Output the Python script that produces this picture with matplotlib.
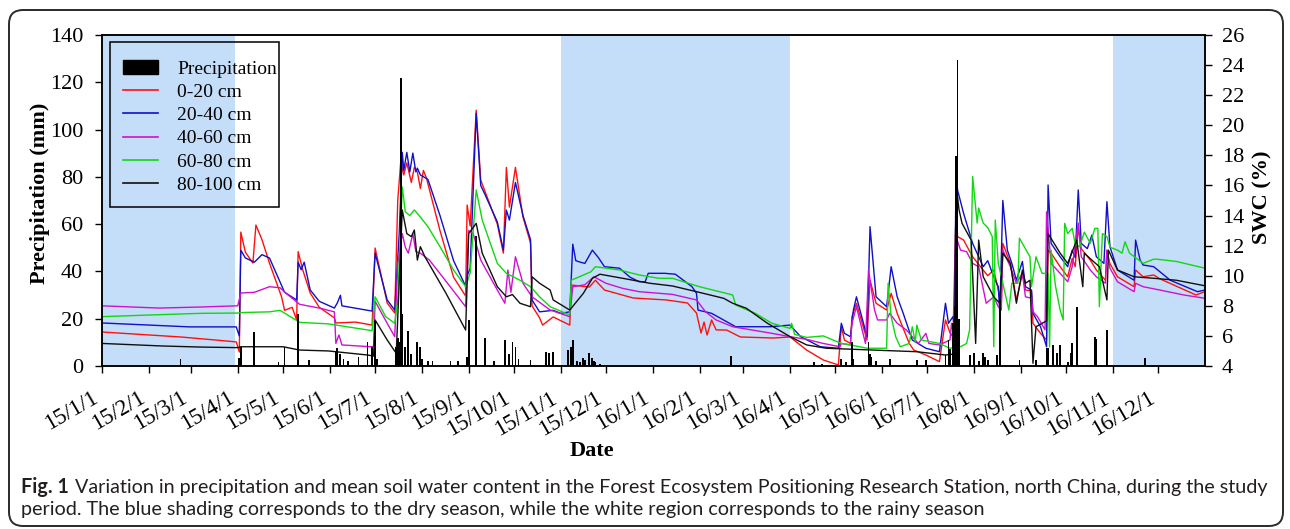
import numpy as np
import pandas as pd
import matplotlib
matplotlib.use("Agg")
import matplotlib.pyplot as plt
from matplotlib.patches import FancyBboxPatch, Patch, Rectangle
from matplotlib.lines import Line2D
from matplotlib.transforms import IdentityTransform, ScaledTranslation

# all x values are days counted from 2015-01-01
start = pd.Timestamp("2015-01-01")
n_days = 731

# dry season shading
dry_start = [0, 304, 670]
dry_end = [88, 456, 731]

# daily precipitation (mm), only rainy days listed
rain_day = [52, 58, 91, 92, 101, 117, 121, 130, 137, 155, 156, 158, 160, 163, 170,
            176, 179, 181, 182, 195, 196, 197, 198, 199, 201, 203, 205, 209, 211, 212,
            216, 219, 231, 236, 242, 243, 248, 254, 260, 267, 270, 272, 274, 276, 284,
            294, 296, 299, 309, 311, 312, 315, 317, 319, 320, 323, 325, 326, 327, 330,
            417, 472, 477, 490, 493, 497, 498, 508, 509, 510, 513, 522, 540, 546, 559,
            561, 562, 564, 565, 566, 567, 568, 575, 578, 581, 584, 585, 587, 593, 595,
            608, 619, 626, 627, 630, 633, 635, 640, 642, 643, 646, 658, 659, 666, 691]
rain_mm = [3.0, 0.6, 3.5, 8, 14.5, 1.5, 8, 22, 2.5, 6.5, 7.5, 5, 3, 2, 4,
           10, 8, 19, 3, 8, 12, 10, 121.7, 22, 8, 15, 5, 10, 8, 3,
           2, 2, 2, 2, 4, 19.5, 55, 11.7, 2, 11, 5, 10, 8, 3, 2.5,
           6, 5.5, 6, 6.8, 8.2, 11, 2, 1.5, 3.5, 2.5, 5.4, 3.5, 2, 1.5, 1,
           4.2, 1.5, 1, 3, 1.5, 10, 3, 10, 5, 4, 2, 3, 2.5, 2.5, 4.6,
           11, 7, 18, 25, 89, 129.4, 20, 4.6, 5.5, 2, 5.5, 4, 2.5, 4.6, 28,
           2.5, 2.5, 7.5, 7.5, 8.9, 5.4, 8.9, 1.5, 5.4, 9.6, 25, 12.4, 11.5, 15.2, 3.2]

# soil water content (%) by depth
swc_0_20_day = [0, 52, 75, 89, 91, 92, 95, 100, 102, 106, 111, 119, 121, 126, 129, 130,
                133, 138, 144, 154, 155, 168, 179, 181, 189, 194, 196, 198, 200, 202, 205,
                207, 209, 211, 213, 215, 224, 233, 241, 242, 244, 248, 251, 254, 262, 266,
                268, 270, 274, 279, 284, 285, 290, 292, 299, 310, 311, 323, 327, 333, 352,
                374, 388, 394, 397, 399, 401, 404, 407, 414, 423, 445, 456, 467, 478, 488,
                490, 492, 496, 497, 500, 507, 509, 513, 520, 523, 527, 535, 538, 546, 555,
                559, 562, 564, 566, 567, 571, 577, 584, 587, 591, 594, 596, 597, 602, 606,
                610, 612, 616, 617, 622, 626, 627, 629, 635, 640, 643, 645, 647, 649, 655,
                659, 665, 666, 668, 673, 684, 685, 690, 697, 701, 725, 731]
swc_0_20 = [6.26, 5.93, 5.73, 5.6, 4.93, 12.9, 11.57, 10.84, 13.37, 12.4, 10.84, 8.6, 7.7, 7.9, 7.06, 11.6,
            10.4, 8.85, 7.9, 7.2, 6.86, 6.92, 6.72, 11.84, 8.19, 7.52, 15.0, 17.6, 16.7, 17.5, 16.2,
            17.2, 16.9, 15.8, 17.0, 16.5, 13.0, 9.9, 8.65, 14.7, 13.3, 21.0, 16.36, 15.56, 13.43, 11.5,
            17.2, 14.56, 17.2, 13.9, 12.17, 8.0, 7.2, 6.72, 7.26, 6.72, 9.38, 9.25, 9.7, 9.05, 8.52,
            8.39, 8.19, 7.52, 6.19, 6.92, 6.06, 7.06, 6.4, 6.39, 5.93, 5.86, 5.93, 5.06, 4.4, 4.07,
            6.61, 5.73, 5.5, 7.28, 8.17, 5.73, 9.7, 8.17, 7.72, 8.83, 7.5, 5.5, 5.06, 4.73, 4.29,
            7.06, 6.2, 5.95, 14.37, 12.6, 12.37, 11.26, 10.38, 10.0, 10.38, 9.05, 8.17, 12.15, 10.82, 8.39,
            10.16, 9.05, 9.0, 6.84, 6.17, 5.73, 11.7, 11.5, 10.6, 9.93, 11.15, 10.6, 13.26, 11.8, 11.04,
            10.38, 9.7, 11.7, 10.8, 9.93, 9.27, 10.38, 9.93, 10.05, 9.8, 8.72, 8.94]

swc_20_40_day = [0, 32, 58, 89, 91, 92, 95, 101, 106, 111, 121, 129, 130, 132, 134, 138,
                 144, 154, 156, 158, 159, 179, 181, 189, 194, 196, 197, 199, 200, 202, 204,
                 206, 208, 209, 211, 216, 224, 233, 241, 242, 244, 248, 251, 254, 262, 266,
                 268, 270, 274, 279, 284, 285, 290, 299, 304, 310, 312, 314, 317, 320, 325,
                 329, 333, 338, 343, 350, 356, 360, 362, 373, 380, 391, 394, 395, 404, 420,
                 443, 456, 463, 476, 488, 490, 492, 496, 498, 500, 507, 509, 513, 520, 523,
                 527, 531, 537, 546, 555, 559, 561, 564, 565, 566, 567, 571, 577, 584, 587,
                 591, 594, 595, 597, 600, 603, 606, 610, 612, 616, 617, 622, 626, 627, 629,
                 635, 640, 643, 645, 647, 649, 653, 656, 659, 664, 666, 668, 673, 684, 685,
                 688, 690, 697, 708, 726, 731]
swc_20_40 = [6.86, 6.72, 6.6, 6.6, 6.0, 11.7, 11.18, 10.9, 11.4, 11.18, 8.9, 8.39, 10.9, 10.4, 10.9, 9.05,
             8.3, 7.85, 8.2, 8.7, 8.0, 7.65, 11.5, 8.39, 7.72, 11.17, 12.84, 18.2, 17.0, 18.2, 16.9,
             18.15, 16.9, 17.15, 16.7, 16.4, 14.0, 11.0, 9.3, 10.0, 10.5, 20.8, 16.0, 15.36, 13.57, 11.7,
             14.36, 13.7, 16.2, 14.0, 12.4, 8.39, 7.6, 7.7, 7.5, 7.6, 12.1, 11.0, 10.9, 10.82, 11.7,
             11.2, 10.6, 10.55, 10.5, 9.9, 9.6, 9.6, 10.16, 10.16, 10.1, 9.27, 8.83, 7.72, 7.5, 6.61,
             6.61, 6.72, 5.95, 5.28, 5.18, 6.84, 6.17, 5.95, 7.72, 8.6, 5.95, 13.26, 8.6, 7.94, 10.6,
             8.6, 7.5, 5.73, 5.18, 4.95, 8.17, 6.84, 7.28, 6.5, 17.0, 15.7, 14.15, 12.15, 10.6, 11.0,
             9.93, 9.27, 7.5, 15.0, 11.7, 10.82, 9.7, 10.95, 9.27, 9.05, 7.5, 6.61, 5.28, 16.03, 12.15,
             11.26, 10.6, 11.7, 11.2, 15.7, 12.15, 11.8, 12.7, 11.26, 10.82, 14.92, 11.93, 10.38, 9.7, 12.37,
             11.04, 10.71, 10.6, 9.7, 8.94, 9.05]

swc_40_60_day = [0, 38, 65, 90, 92, 101, 111, 118, 122, 131, 145, 154, 155, 157, 159, 178,
                 180, 181, 189, 194, 196, 199, 201, 203, 206, 208, 211, 217, 229, 241, 243,
                 246, 251, 262, 267, 269, 271, 274, 279, 285, 297, 310, 312, 320, 326, 334,
                 345, 356, 378, 394, 400, 407, 418, 444, 456, 467, 478, 489, 490, 496, 497,
                 500, 506, 508, 512, 514, 520, 522, 527, 533, 537, 541, 546, 548, 555, 562,
                 563, 565, 566, 569, 573, 577, 581, 586, 591, 594, 596, 597, 602, 606, 610,
                 612, 616, 617, 620, 625, 626, 629, 635, 640, 643, 647, 649, 655, 659, 665,
                 666, 668, 673, 684, 685, 690, 701, 717, 731]
swc_40_60 = [8.0, 7.85, 7.92, 8.0, 8.85, 8.9, 9.27, 9.2, 8.83, 8.1, 7.83, 7.6, 5.5, 6.06, 5.4, 5.28,
             5.3, 8.3, 6.84, 5.95, 10.8, 12.8, 11.9, 11.5, 12.8, 11.6, 11.5, 11.04, 9.5, 7.94, 13.0,
             12.8, 11.04, 9.05, 8.17, 10.38, 8.9, 11.26, 9.5, 8.6, 7.72, 7.28, 9.27, 9.4, 9.93, 9.5,
             9.16, 8.94, 8.76, 8.39, 7.6, 7.06, 6.61, 6.17, 5.95, 5.77, 5.5, 5.28, 5.5, 5.4, 6.84,
             7.94, 5.5, 10.38, 7.72, 7.06, 7.06, 7.5, 6.84, 6.4, 5.95, 5.5, 6.17, 5.5, 5.4, 5.73,
             6.84, 5.6, 12.6, 11.7, 11.6, 10.82, 10.6, 8.17, 8.6, 7.94, 7.72, 11.7, 10.6, 9.5, 10.16,
             8.6, 8.5, 7.6, 7.28, 6.4, 14.25, 10.82, 10.16, 9.6, 10.6, 13.5, 11.26, 10.38, 9.93, 9.5,
             11.7, 10.5, 9.6, 8.94, 9.5, 9.27, 9.05, 8.72, 8.5]

swc_60_80_day = [0, 32, 65, 90, 92, 111, 118, 131, 150, 179, 181, 188, 194, 196, 199, 201,
                 204, 207, 211, 216, 224, 233, 241, 244, 248, 252, 262, 268, 277, 284, 290,
                 297, 310, 311, 324, 327, 343, 356, 369, 378, 396, 418, 420, 433, 444, 456,
                 457, 459, 467, 478, 490, 496, 507, 520, 521, 523, 526, 529, 535, 537, 539,
                 540, 543, 555, 562, 569, 573, 575, 577, 580, 581, 584, 587, 590, 591, 592,
                 594, 597, 601, 603, 607, 608, 615, 616, 619, 623, 627, 628, 629, 632, 635,
                 637, 638, 640, 643, 645, 648, 651, 655, 658, 660, 661, 663, 666, 668, 673,
                 676, 678, 681, 690, 697, 699, 712, 731]
swc_60_80 = [7.28, 7.39, 7.5, 7.52, 7.55, 7.6, 7.7, 6.9, 6.8, 6.35, 8.6, 7.28, 6.84, 8.4, 15.9, 14.25,
             14.0, 14.37, 13.9, 13.26, 11.93, 10.38, 9.27, 10.2, 15.7, 13.7, 10.82, 10.16, 9.7, 9.27, 8.6,
             7.94, 7.39, 9.7, 10.26, 10.6, 10.38, 10.05, 9.83, 9.83, 9.27, 8.72, 8.05, 7.5, 6.84, 6.5,
             6.84, 6.1, 5.9, 6.0, 5.5, 5.4, 5.18, 5.18, 9.5, 7.28, 5.95, 5.28, 5.5, 6.61, 5.6,
             6.72, 5.73, 5.5, 5.18, 5.28, 5.5, 6.4, 16.6, 13.5, 14.5, 13.5, 13.2, 12.6, 5.28, 13.7,
             10.82, 9.5, 7.72, 9.5, 9.5, 12.5, 11.26, 9.27, 11.26, 10.16, 10.16, 5.28, 11.7, 9.27, 7.72,
             7.06, 13.48, 12.8, 13.15, 12.1, 11.93, 12.9, 12.15, 13.15, 13.15, 7.94, 12.8, 12.6, 11.9, 11.7,
             11.5, 12.26, 11.5, 10.82, 11.1, 11.1, 10.95, 10.5]

swc_80_100_day = [0, 40, 65, 90, 92, 120, 131, 150, 176, 180, 181, 189, 195, 199, 202, 205,
                  207, 209, 211, 214, 228, 241, 243, 248, 252, 262, 268, 272, 277, 284, 285,
                  290, 297, 299, 310, 319, 325, 330, 345, 363, 378, 394, 412, 418, 427, 441,
                  456, 467, 480, 511, 540, 559, 565, 566, 568, 570, 576, 579, 581, 584, 591,
                  595, 597, 602, 606, 610, 612, 615, 617, 619, 626, 627, 635, 640, 646, 650,
                  651, 656, 661, 666, 667, 673, 684, 697, 712, 731]
swc_80_100 = [5.5, 5.33, 5.26, 5.22, 5.28, 5.28, 5.06, 5.0, 4.73, 4.66, 7.06, 5.73, 4.84, 14.37, 12.8, 12.6,
              13.04, 11.04, 11.93, 11.26, 8.83, 6.39, 12.8, 13.48, 11.5, 9.27, 8.6, 8.75, 8.17, 7.94, 9.93,
              9.5, 9.05, 8.39, 7.72, 8.83, 9.83, 10.1, 9.83, 9.5, 9.32, 8.94, 8.5, 8.17, 7.84, 6.84,
              5.95, 5.4, 5.18, 5.06, 4.95, 4.73, 4.8, 16.14, 14.37, 13.48, 12.37, 5.5, 12.37, 9.93, 8.6,
              8.17, 11.5, 10.82, 8.17, 10.38, 9.5, 9.7, 4.18, 6.61, 7.0, 12.8, 11.5, 10.82, 12.37, 9.27,
              11.5, 11.04, 10.6, 8.39, 11.7, 10.38, 9.93, 9.83, 9.7, 9.33]

labels = ["Precipitation", "0-20 cm", "20-40 cm", "40-60 cm", "60-80 cm", "80-100 cm"]
colors = ["#ff1010", "#1010c8", "#d010d0", "#10d810", "#101010"]

caption_1 = ("Variation in precipitation and mean soil water content in the Forest Ecosystem "
             "Positioning Research Station, north China, during the study")
caption_2 = ("period. The blue shading corresponds to the dry season, while the white region "
             "corresponds to the rainy season")

serif = "Liberation Serif"
W, H = 1290, 529

fig = plt.figure(figsize=(W / 100, H / 100), dpi=100)
ax = fig.add_axes([102 / W, 1 - 366 / H, 1103 / W, 331 / H])
ax2 = ax.twinx()

# bars on top, lines and shading underneath
ax.set_zorder(ax2.get_zorder() + 1)
ax.patch.set_visible(False)

for s, e in zip(dry_start, dry_end):
    ax2.axvspan(s, e, color="#c4ddf8", lw=0, zorder=0)

series = [(swc_0_20_day, swc_0_20), (swc_20_40_day, swc_20_40), (swc_40_60_day, swc_40_60),
          (swc_60_80_day, swc_60_80), (swc_80_100_day, swc_80_100)]
for (d, v), c in zip(series, colors):
    ax2.plot(d, v, color=c, lw=1.0, zorder=2)

ax.bar(rain_day, rain_mm, width=1.2, color="black", lw=0, align="center")

ax.set_xlim(0, n_days)
ax.set_ylim(0, 140)
ax2.set_ylim(4, 26)
ax.set_yticks(np.arange(0, 141, 20))
ax2.set_yticks(np.arange(4, 27, 2))

months = pd.date_range("2015-01-01", "2016-12-01", freq="MS")
ax.set_xticks((months - start).days)
ax.set_xticklabels(["%d/%d/1" % (m.year % 100, m.month) for m in months],
                   rotation=30, ha="right", va="top", fontsize=16.5, family=serif)
shift = ScaledTranslation(-4 / 100, 0, fig.dpi_scale_trans)
for lab in ax.get_xticklabels():
    lab.set_transform(lab.get_transform() + shift)

ax.tick_params(axis="x", direction="out", length=5, width=1, pad=10.5)
ax.tick_params(axis="y", direction="out", length=5, width=1, pad=8.5, labelsize=16)
ax2.tick_params(axis="y", direction="out", length=5, width=1, pad=7, labelsize=16)
for lab in ax.get_yticklabels() + ax2.get_yticklabels():
    lab.set_family(serif)

for a in (ax, ax2):
    for sp in a.spines.values():
        sp.set_linewidth(1.1)

ax.set_ylabel("Precipitation (mm)", fontsize=16, fontweight="bold", family=serif)
ax.yaxis.set_label_coords(-0.047, 0.523)
ax2.set_ylabel("SWC (%)", fontsize=16, fontweight="bold", family=serif)
ax2.yaxis.set_label_coords(1.0435, 0.51)
ax.set_xlabel("Date", fontsize=16, fontweight="bold", family=serif)
ax.xaxis.set_label_coords(0.444, -0.227)

handles = [Patch(facecolor="black", edgecolor="black")]
handles += [Line2D([0], [0], color=c, lw=1.2) for c in colors]
ax.legend(handles, labels, loc="upper left", bbox_to_anchor=(21 / 1103, (366 - 60) / 331),
          borderaxespad=0, borderpad=0, frameon=False, handlelength=1.8, handletextpad=1.0,
          labelspacing=0.29, prop={"family": serif, "size": 14})
# legend frame drawn by hand (text nearly touches its right edge)
fig.add_artist(Rectangle((110, H - 207), 169, 165, transform=IdentityTransform(),
                         fill=False, ec="black", lw=1.1, zorder=5))

# rounded border around the whole figure
box = FancyBboxPatch((9, 3), 1274, 516, boxstyle="round,pad=0,rounding_size=14",
                     transform=IdentityTransform(), fill=False, ec="#2a2a2a", lw=1.4)
fig.add_artist(box)

# caption, size fitted to the width of the first line
cap_font = "Lato"
size = 12.5
renderer = fig.canvas.get_renderer()
t1 = fig.text(21 / W, 1 - 487 / H, "Fig. 1", fontsize=size, fontweight="bold",
              family=cap_font, va="center", ha="left", color="#231f20")
b1 = t1.get_window_extent(renderer)
t2 = fig.text((b1.x1 + 5) / W, 1 - 487 / H, caption_1, fontsize=size, family=cap_font,
              va="center", ha="left", color="#231f20")
b2 = t2.get_window_extent(renderer)
scale = (1270 - 21) / (b2.x1 - b1.x0)
size = size * scale
t1.set_fontsize(size)
b1 = t1.get_window_extent(renderer)
t2.set_fontsize(size)
t2.set_x((b1.x1 + 5 * scale) / W)
fig.text(21 / W, 1 - 509 / H, caption_2, fontsize=size, family=cap_font,
         va="center", ha="left", color="#231f20")

fig.savefig("out.png", dpi=100)
